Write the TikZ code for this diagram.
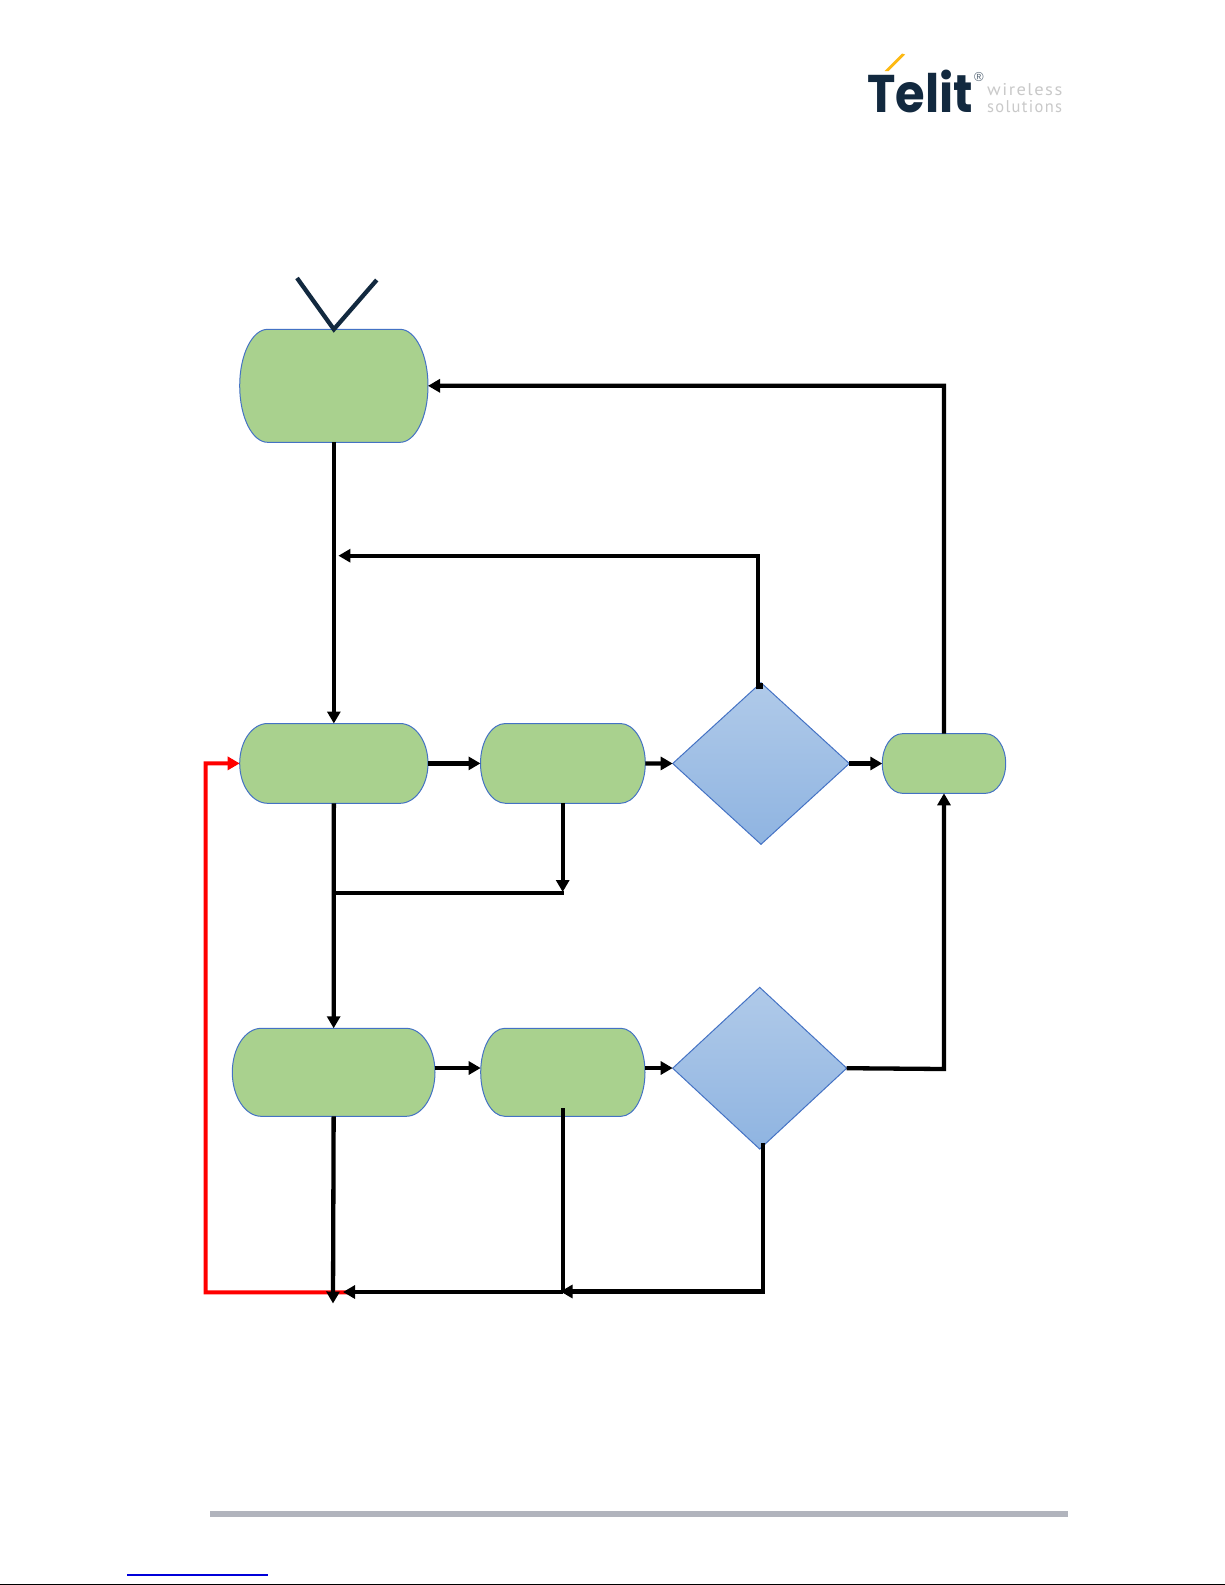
\documentclass[tikz,border=0pt]{standalone}
\usepackage{fontspec}
\setmainfont{Liberation Sans}
\newfontfamily\telitfont{Poppins}
\newfontfamily\tagfont[LetterSpace=8]{PT Sans}
\usetikzlibrary{arrows.meta,shapes.geometric}
\definecolor{pillgreen}{HTML}{A9D18E}
\definecolor{pillblue}{HTML}{4472C4}
\definecolor{diatop}{HTML}{B0CAE9}
\definecolor{diabot}{HTML}{8FB4E1}
\definecolor{navy}{HTML}{12293F}
\definecolor{logoorange}{HTML}{FDB913}
\definecolor{taggray}{HTML}{C9C9C9}
\definecolor{rulegray}{HTML}{B1B4BD}
\tikzset{
  conn/.style={line width=4.3pt,line join=miter,draw=black},
  arr/.style={conn,-{Triangle[length=12pt,width=13pt]}},
  redconn/.style={line width=4pt,draw=red,line join=miter,-{Triangle[length=12pt,width=13pt,fill=red]}},
  pillpath/.style={fill=pillgreen,draw=pillblue,line width=1pt},
  pillanchor/.style={rectangle,inner sep=0pt,outer sep=0pt},
  dia/.style={diamond,inner sep=0pt,outer sep=0pt,draw=pillblue,line width=1pt,top color=diatop,bottom color=diabot},
  tagtext/.style={anchor=base west,inner sep=0pt,text=taggray,font=\tagfont\fontsize{17}{17}\selectfont},
}
% #1 name, #2 left, #3 top, #4 right, #5 bottom, #6 rx, #7 ry
\newcommand{\pillshape}[7]{%
  \path[pillpath] ({#2+#6},#3) -- ({#4-#6},#3)
    arc[start angle=90,end angle=0,x radius=#6pt,y radius=#7pt]
    -- (#4,{#5-#7})
    arc[start angle=0,end angle=-90,x radius=#6pt,y radius=#7pt]
    -- ({#2+#6},#5)
    arc[start angle=-90,end angle=-180,x radius=#6pt,y radius=#7pt]
    -- (#2,{#3+#7})
    arc[start angle=180,end angle=90,x radius=#6pt,y radius=#7pt]
    -- cycle;
  \pgfmathsetmacro{\pw}{#4-(#2)}%
  \pgfmathsetmacro{\ph}{#5-(#3)}%
  \node[pillanchor,minimum width=\pw pt,minimum height=\ph pt] (#1) at ({(#2+#4)/2},{(#3+#5)/2}) {};
}
\begin{document}
\begin{tikzpicture}[x=1pt,y=-1pt]
\useasboundingbox (0,0) rectangle (1225,1585);
\fill[white] (0,0) rectangle (1225,1585);

% logo
\node[anchor=base west,inner sep=0pt,text=navy,xscale=0.905,font=\telitfont\bfseries\fontsize{53}{53}\selectfont] (telit) at (867,112.3) {Telit};
\fill[logoorange] (884.5,71) -- (888.5,71) -- (905,54.5) -- (902,53.5) -- cycle;
\node[inner sep=0pt,text=navy!70,font=\fontsize{13}{13}\selectfont] (reg) at (979,77.5) {®};
\node[tagtext,xscale=1.09] (wireless) at (987,95) {wireless};
\node[tagtext,xscale=0.97] (solutions) at (987,112.3) {solutions};

% footer
\fill[rulegray] (210,1511) rectangle (1068,1516.8);
\coordinate (linkl) at (127,1575);
\coordinate (linkr) at (268,1575);
\draw[blue!85!black,line width=1.2pt] (linkl) -- (linkr);
\coordinate (botl) at (0,1584.3);
\coordinate (botr) at (1225,1584.3);
\draw[black,line width=1.4pt] (botl) -- (botr);

% shapes
\pillshape{start}{239.7}{329.3}{428}{442.3}{28}{56.5}
\pillshape{pb}{239.7}{723.5}{428}{803.3}{28}{39.9}
\pillshape{pc}{480.5}{723.5}{645.3}{803.3}{25}{39.9}
\pillshape{pd}{232.3}{1028.3}{435}{1116.3}{29}{44}
\pillshape{pe}{480.7}{1028.3}{645}{1116.3}{24}{44}
\pillshape{pf}{882.3}{733.7}{1005.7}{793.3}{20}{29.8}
\node[dia,minimum width=176.6pt,minimum height=161.6pt] (d1) at (761,763.5) {};
\node[dia,minimum width=174pt,minimum height=161.7pt] (d2) at (759.7,1068.2) {};

% antenna
\coordinate (antl) at (297,278);
\coordinate (antr) at (376.7,280);
\draw[navy,line width=4.3pt,line join=miter] (antl) -- (start.north) -- (antr);

% named turning points
\coordinate (redcorner) at (205.7,1292.3);
\coordinate (redtop) at (205.7,763.3);
\coordinate (redend) at (347.7,1292.3);
\coordinate (j2) at (338.4,555.7);
\coordinate (d1up) at (758.3,689);
\coordinate (d1turn) at (758.3,555.7);
\coordinate (fturn) at (944,385.7);
\coordinate (cout) at (562.7,803.3);
\coordinate (cjoin) at (562.7,892);
\coordinate (bjoin) at (333.7,892.7);
\coordinate (cjoinr) at (564,892.7);
\coordinate (eup) at (562.8,1108);
\coordinate (ejoin) at (562.8,1292);
\coordinate (d2down) at (763.3,1142.7);
\coordinate (d2turn) at (763.3,1291.5);
\coordinate (tip2) at (560.5,1291.5);
\coordinate (tip1) at (343,1292);
\coordinate (dtail) at (333,1303.5);
\coordinate (fturn2) at (944,1069);
\coordinate (dout) at (435,1068);
\coordinate (ein) at (480.7,1068);
\coordinate (eout) at (645,1068);
\coordinate (dtwoin) at (672.7,1068);

% red return
\path[fill=red] (redend) ++(0,-1.8) rectangle ++(-10,3.6);
\draw[redconn] (redend) -- (redcorner) -- (redtop) -- (pb.west);

% black connectors
\draw[arr] (start.south) -- (pb.north);
\draw[arr] (pb.south) -- (pd.north);
\draw[conn] (bjoin) -- (cjoinr);
\draw[arr] (cout) -- (cjoin);
\draw[arr] (pb.east) -- (pc.west);
\draw[arr] (pc.east) -- (d1.west);
\draw[arr] (d1.east) -- (pf.west);
\draw[arr] (dout) -- (ein);
\draw[arr] (eout) -- (dtwoin);
\draw[arr] (d2.east) -- (fturn2) -- (pf.south);
\draw[arr] (pf.north) -- (fturn) -- (start.east);
\draw[arr] (d1up) -- (d1turn) -- (j2);
\fill[black] (755.5,682.5) rectangle (763,689);
\draw[arr] (pd.south) -- (dtail);
\draw[conn] (eup) -- (ejoin);
\draw[arr] (d2down) -- (d2turn) -- (tip2);
\draw[arr] (ejoin) -- (tip1);
\end{tikzpicture}
\end{document}
